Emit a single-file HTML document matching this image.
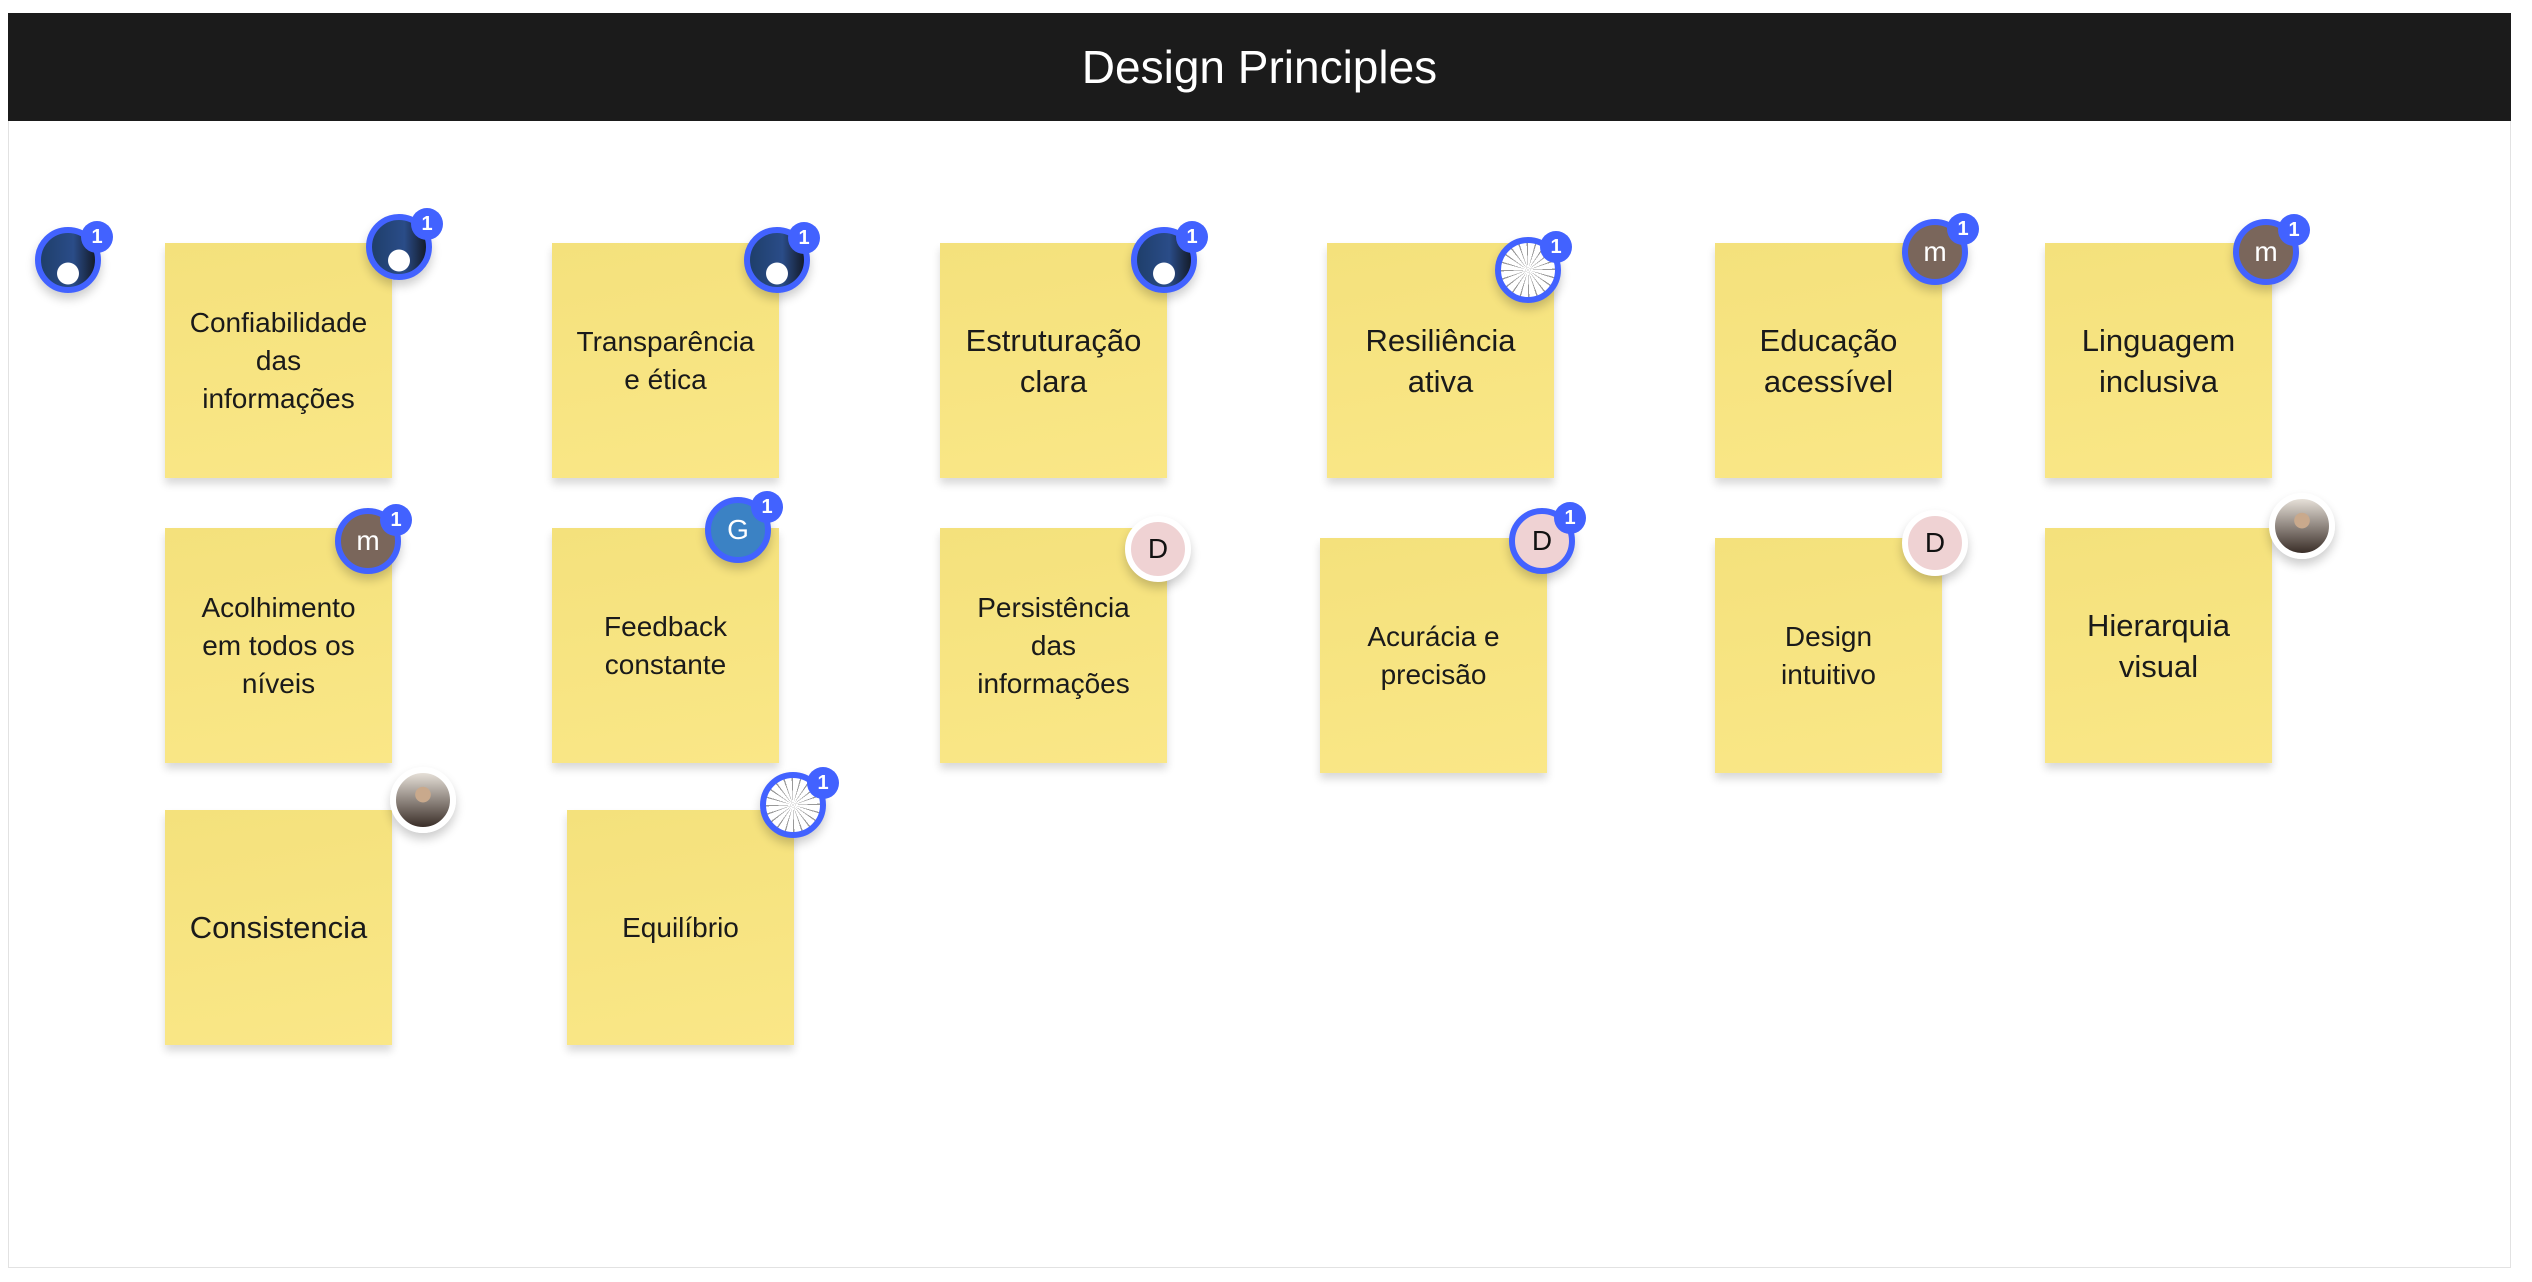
<!DOCTYPE html>
<html><head><meta charset="utf-8"><style>
body{margin:0;width:2532px;height:1282px;background:#fff;position:relative;overflow:hidden;font-family:"Liberation Sans",sans-serif}
.panel{position:absolute;left:8px;top:13px;width:2503px;height:1255px;border:1px solid #e2e2e2;box-sizing:border-box}
.hdr{position:absolute;left:8px;top:13px;width:2503px;height:108px;background:#1b1b1b;color:#fff;font-size:46px;text-align:center;line-height:108px}
.n{position:absolute;width:227px;height:235px;background:linear-gradient(170deg,#f4e17c,#fae787);box-shadow:0 6px 8px rgba(0,0,0,.15);display:flex;align-items:center;justify-content:center;text-align:center;font-size:28px;line-height:38px;color:#1a1a1a}
.a{position:absolute;width:66px;height:66px;border-radius:50%;box-sizing:border-box;border:6px solid #4262ff;box-shadow:0 6px 10px rgba(0,0,0,.2);display:flex;align-items:center;justify-content:center;font-size:28px;color:#fff}
.a.w{border-color:#fff}
.ph{background:radial-gradient(circle at 50% 75%,#fff 0 22%,transparent 23%),linear-gradient(90deg,#1f3f6b,#2a4c88 60%,#141c2a)}
.ph2{background:radial-gradient(circle at 50% 40%,#c9a98c 0 18%,transparent 19%),linear-gradient(#e6e0d8,#3a2e28)}
.m{background:#7a665b}
.g{background:#3b82c4}
.d{background:#efd2d3;color:#111}
.wh{background:repeating-conic-gradient(#fff 0 15deg,#999 15deg 18deg)}
.b{position:absolute;width:32px;height:32px;border-radius:50%;background:#4262ff;color:#fff;font-size:20px;font-weight:bold;text-align:center;line-height:32px}
</style></head><body>
<div class="panel"></div>
<div class="hdr">Design Principles</div>

<div class="n" style="left:165px;top:243px">Confiabilidade<br>das<br>informações</div>
<div class="n" style="left:552px;top:243px">Transparência<br>e ética</div>
<div class="n" style="left:940px;top:243px;font-size:31px;line-height:41px">Estruturação<br>clara</div>
<div class="n" style="left:1327px;top:243px;font-size:31px;line-height:41px">Resiliência<br>ativa</div>
<div class="n" style="left:1715px;top:243px;font-size:31px;line-height:41px">Educação<br>acessível</div>
<div class="n" style="left:2045px;top:243px;font-size:31px;line-height:41px">Linguagem<br>inclusiva</div>

<div class="n" style="left:165px;top:528px">Acolhimento<br>em todos os<br>níveis</div>
<div class="n" style="left:552px;top:528px">Feedback<br>constante</div>
<div class="n" style="left:940px;top:528px">Persistência<br>das<br>informações</div>
<div class="n" style="left:1320px;top:538px">Acurácia e<br>precisão</div>
<div class="n" style="left:1715px;top:538px">Design<br>intuitivo</div>
<div class="n" style="left:2045px;top:528px;font-size:31px;line-height:41px">Hierarquia<br>visual</div>

<div class="n" style="left:165px;top:810px;font-size:31px">Consistencia</div>
<div class="n" style="left:567px;top:810px">Equilíbrio</div>

<div class="a ph" style="left:35px;top:227px"></div><div class="b" style="left:81px;top:221px">1</div>
<div class="a ph" style="left:366px;top:214px"></div><div class="b" style="left:411px;top:208px">1</div>
<div class="a ph" style="left:744px;top:227px"></div><div class="b" style="left:788px;top:222px">1</div>
<div class="a ph" style="left:1131px;top:227px"></div><div class="b" style="left:1176px;top:221px">1</div>
<div class="a wh" style="left:1495px;top:237px"></div><div class="b" style="left:1540px;top:231px">1</div>
<div class="a m" style="left:1902px;top:219px">m</div><div class="b" style="left:1947px;top:213px">1</div>
<div class="a m" style="left:2233px;top:219px">m</div><div class="b" style="left:2278px;top:214px">1</div>

<div class="a m" style="left:335px;top:508px">m</div><div class="b" style="left:380px;top:504px">1</div>
<div class="a g" style="left:705px;top:497px">G</div><div class="b" style="left:751px;top:491px">1</div>
<div class="a w d" style="left:1125px;top:516px">D</div>
<div class="a d" style="left:1509px;top:508px">D</div><div class="b" style="left:1554px;top:502px">1</div>
<div class="a w d" style="left:1902px;top:510px">D</div>
<div class="a w ph2" style="left:2269px;top:493px"></div>

<div class="a w ph2" style="left:390px;top:767px"></div>
<div class="a wh" style="left:760px;top:772px"></div><div class="b" style="left:807px;top:767px">1</div>
</body></html>
